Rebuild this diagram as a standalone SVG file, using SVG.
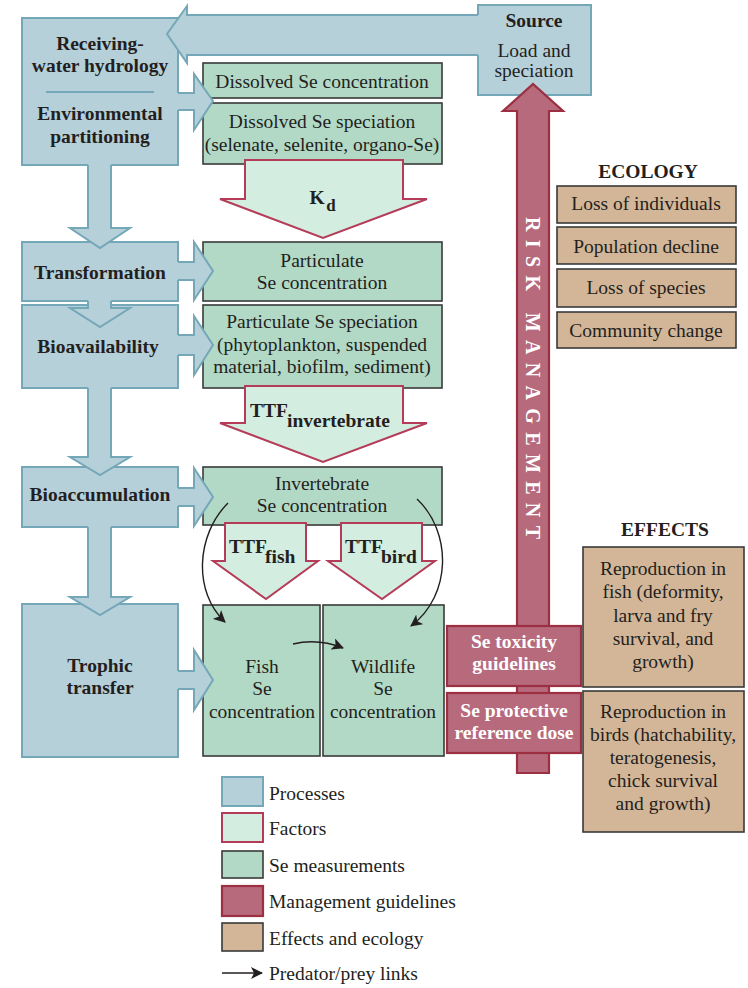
<svg xmlns="http://www.w3.org/2000/svg" width="748" height="988" viewBox="0 0 748 988">
<defs>
<style>
text{font-family:"Liberation Serif","Times New Roman",serif;font-size:19.5px;fill:#231f20;text-anchor:middle}
.b{font-weight:bold}
.w{fill:#ffffff;font-weight:bold}
.l{text-anchor:start}
.proc{fill:#b6d0da;stroke:#74a7b7;stroke-width:2}
.procf{fill:#b6d0da;stroke:none}
.procs{fill:none;stroke:#74a7b7;stroke-width:2;stroke-linejoin:miter}
.fac{fill:#d4ede1;stroke:#b43c58;stroke-width:2}
.meas{fill:#b2d9c6;stroke:#3a3a3a;stroke-width:1.6}
.mgmt{fill:#b66a7c;stroke:#9c2f42;stroke-width:2.2}
.eff{fill:#d3b698;stroke:#3a3a3a;stroke-width:1.6}
.link{fill:none;stroke:#231f20;stroke-width:1.4}
</style>
<marker id="ah" markerUnits="userSpaceOnUse" markerWidth="14" markerHeight="12" refX="11" refY="6" orient="auto">
<path d="M0,0 L12,6 L0,12 L3,6 z" fill="#231f20"/>
</marker>
</defs>

<!-- Process boxes -->
<g id="receiving">
<rect class="proc" x="22" y="18" width="156" height="147"/>
<line x1="46" y1="92" x2="154" y2="92" stroke="#74a7b7" stroke-width="1.8"/>
<text class="b" x="100" y="50">Receiving-</text>
<text class="b" x="100" y="72">water hydrology</text>
<text class="b" x="100" y="120">Environmental</text>
<text class="b" x="100" y="143">partitioning</text>
</g>
<g id="transformation">
<rect class="proc" x="22" y="242" width="156" height="59"/>
<text class="b" x="100" y="279">Transformation</text>
</g>
<g id="bioavailability">
<rect class="proc" x="22" y="305" width="156" height="83"/>
<text class="b" x="98" y="353">Bioavailability</text>
</g>
<g id="bioaccumulation">
<rect class="proc" x="22" y="467" width="156" height="60"/>
<text class="b" x="100" y="501">Bioaccumulation</text>
</g>
<g id="trophic">
<rect class="proc" x="22" y="604" width="156" height="153"/>
<text class="b" x="100" y="672">Trophic</text>
<text class="b" x="100" y="694">transfer</text>
</g>
<g id="source">
<rect class="proc" x="478" y="5" width="113" height="90"/>
<text class="b" x="534" y="27">Source</text>
<text x="534" y="57">Load and</text>
<text x="534" y="77">speciation</text>
</g>

<!-- Measurement boxes -->
<g id="dissolved-conc">
<rect class="meas" x="203" y="63" width="239" height="35"/>
<text x="322" y="88">Dissolved Se concentration</text>
</g>
<g id="dissolved-spec">
<rect class="meas" x="203" y="103" width="239" height="61"/>
<text x="322" y="128">Dissolved Se speciation</text>
<text x="322" y="151">(selenate, selenite, organo-Se)</text>
</g>
<g id="particulate-conc">
<rect class="meas" x="203" y="242" width="239" height="59"/>
<text x="322" y="267">Particulate</text>
<text x="322" y="289">Se concentration</text>
</g>
<g id="particulate-spec">
<rect class="meas" x="203" y="305" width="239" height="83"/>
<text x="322" y="328">Particulate Se speciation</text>
<text x="322" y="351">(phytoplankton, suspended</text>
<text x="322" y="373">material, biofilm, sediment)</text>
</g>
<g id="invertebrate-conc">
<rect class="meas" x="203" y="467" width="239" height="58"/>
<text x="322" y="490">Invertebrate</text>
<text x="322" y="512">Se concentration</text>
</g>
<g id="fish-conc">
<rect class="meas" x="203" y="605" width="117" height="151"/>
<text x="262" y="673">Fish</text>
<text x="262" y="695">Se</text>
<text x="262" y="718">concentration</text>
</g>
<g id="wildlife-conc">
<rect class="meas" x="323" y="605" width="121" height="151"/>
<text x="383" y="673">Wildlife</text>
<text x="383" y="695">Se</text>
<text x="383" y="718">concentration</text>
</g>

<!-- Connectors -->
<g id="connectors">
<!-- Volume arrow -->
<polygon class="procf" points="480,15 187,15 187,6 167,34 187,63 187,55 480,55"/>
<polyline class="procs" points="478,15 187,15 187,6 167,34 187,63 187,55 478,55"/>
<!-- process right arrows -->
<polygon class="procf" points="176,93 194,93 194,74 213,101 194,130 194,110 176,110"/>
<polyline class="procs" points="178,93 194,93 194,74 213,101 194,130 194,110 178,110"/>
<polygon class="procf" points="176,262 194,262 194,242 213,271 194,300 194,280 176,280"/>
<polyline class="procs" points="178,262 194,262 194,242 213,271 194,300 194,280 178,280"/>
<polygon class="procf" points="176,335 194,335 194,316 213,345 194,375 194,355 176,355"/>
<polyline class="procs" points="178,335 194,335 194,316 213,345 194,375 194,355 178,355"/>
<polygon class="procf" points="176,488 194,488 194,468 213,497 194,526 194,506 176,506"/>
<polyline class="procs" points="178,488 194,488 194,468 213,497 194,526 194,506 178,506"/>
<polygon class="procf" points="176,671 194,671 194,650 213,680 194,710 194,689 176,689"/>
<polyline class="procs" points="178,671 194,671 194,650 213,680 194,710 194,689 178,689"/>
<!-- process down arrows -->
<polygon class="procf" points="88,163 88,228 70,228 100,248 130,228 111,228 111,163"/>
<polyline class="procs" points="88,165 88,228 70,228 100,248 130,228 111,228 111,165"/>
<polygon class="procf" points="88,299 88,308 70,308 100,327 130,308 111,308 111,299"/>
<polyline class="procs" points="88,301 88,308 70,308 100,327 130,308 111,308 111,301"/>
<polygon class="procf" points="88,386 88,457 70,457 100,475 130,457 111,457 111,386"/>
<polyline class="procs" points="88,388 88,457 70,457 100,475 130,457 111,457 111,388"/>
<polygon class="procf" points="88,525 88,597 70,597 100,615 130,597 111,597 111,525"/>
<polyline class="procs" points="88,527 88,597 70,597 100,615 130,597 111,597 111,527"/>
<!-- predator/prey links -->
<path class="link" d="M228,503 C196,535 193,592 225,622" marker-end="url(#ah)"/>
<path class="link" d="M417,499 C452,532 452,595 411,626" marker-end="url(#ah)"/>
<path class="link" d="M293,644 Q318,638 343,648" marker-end="url(#ah)"/>
</g>

<!-- Factor arrows -->
<g id="kd">
<polygon class="fac" points="245,160 403,160 403,199 427,199 323,238 220,199 245,199"/>
<text class="b" x="317" y="204">K</text>
<text class="b" x="331" y="211" style="font-size:17px">d</text>
</g>
<g id="ttf-invertebrate">
<polygon class="fac" points="245,386 403,386 403,423 427,423 323,462 220,423 245,423"/>
<text class="b l" x="250" y="417">TTF</text>
<text class="b l" x="287" y="427">invertebrate</text>
</g>
<g id="ttf-fish">
<polygon class="fac" points="225,523 306,523 306,561 318,561 266,599 213,561 225,561"/>
<text class="b l" x="229" y="553">TTF</text>
<text class="b l" x="265" y="563">fish</text>
</g>
<g id="ttf-bird">
<polygon class="fac" points="341,523 422,523 422,561 435,561 382,599 328,561 341,561"/>
<text class="b l" x="345" y="553">TTF</text>
<text class="b l" x="381" y="563">bird</text>
</g>

<!-- Risk management arrow -->
<g id="risk-management">
<polygon class="mgmt" points="517,773 517,111 503,111 533,84 563,111 549,111 549,773"/>
<text class="w l" transform="translate(526,217) rotate(90)" x="0" y="0" textLength="322" lengthAdjust="spacing" style="font-size:20px">RISK MANAGEMENT</text>
</g>
<g id="se-toxicity">
<rect class="mgmt" x="447" y="626" width="134" height="60"/>
<text class="w" x="514" y="648">Se toxicity</text>
<text class="w" x="514" y="670">guidelines</text>
</g>
<g id="se-protective">
<rect class="mgmt" x="447" y="693" width="134" height="60"/>
<text class="w" x="514" y="717">Se protective</text>
<text class="w" x="514" y="739">reference dose</text>
</g>

<!-- Ecology -->
<g id="ecology">
<text class="b" x="648" y="178">ECOLOGY</text>
<rect class="eff" x="557" y="186" width="179" height="37"/>
<text x="646" y="210">Loss of individuals</text>
<rect class="eff" x="557" y="227" width="179" height="37"/>
<text x="646" y="253">Population decline</text>
<rect class="eff" x="557" y="269" width="179" height="38"/>
<text x="646" y="294">Loss of species</text>
<rect class="eff" x="557" y="312" width="179" height="36"/>
<text x="646" y="337">Community change</text>
</g>

<!-- Effects -->
<g id="effects">
<text class="b" x="665" y="536">EFFECTS</text>
</g>
<g id="effects-fish">
<rect class="eff" x="583" y="547" width="161" height="140"/>
<text x="663" y="575">Reproduction in</text>
<text x="663" y="598">fish (deformity,</text>
<text x="663" y="622">larva and fry</text>
<text x="663" y="645">survival, and</text>
<text x="663" y="668">growth)</text>
</g>
<g id="effects-birds">
<rect class="eff" x="583" y="691" width="161" height="141"/>
<text x="663" y="718">Reproduction in</text>
<text x="663" y="741">birds (hatchability,</text>
<text x="663" y="764">teratogenesis,</text>
<text x="663" y="787">chick survival</text>
<text x="663" y="810">and growth)</text>
</g>

<!-- Legend -->
<g id="legend">
<rect class="proc" x="222" y="777" width="41" height="29"/>
<text class="l" x="269" y="800">Processes</text>
<rect class="fac" x="222" y="813" width="41" height="29"/>
<text class="l" x="269" y="835">Factors</text>
<rect class="meas" x="222" y="851" width="41" height="27"/>
<text class="l" x="269" y="872">Se measurements</text>
<rect class="mgmt" x="222" y="886" width="41" height="30"/>
<text class="l" x="269" y="908">Management guidelines</text>
<rect class="eff" x="222" y="923" width="41" height="28"/>
<text class="l" x="269" y="945">Effects and ecology</text>
<line class="link" x1="222" y1="973" x2="262" y2="973" marker-end="url(#ah)"/>
<text class="l" x="269" y="980">Predator/prey links</text>
</g>
</svg>
